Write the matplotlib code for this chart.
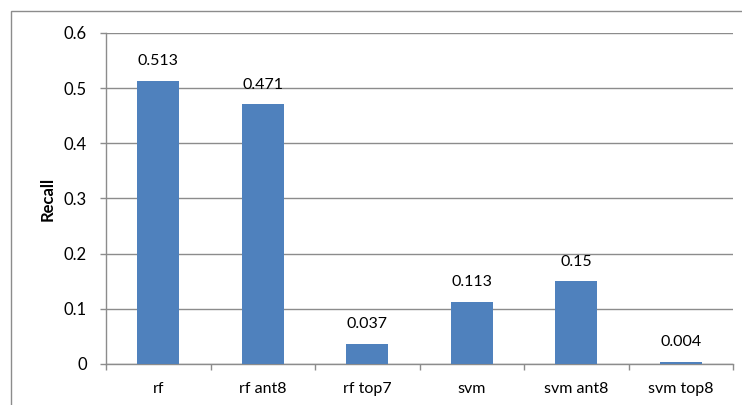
import matplotlib
matplotlib.use("Agg")
import matplotlib.pyplot as plt
from matplotlib.patches import Rectangle

categories = ["rf", "rf ant8", "rf top7", "svm", "svm ant8", "svm top8"]
recall = [0.513, 0.471, 0.037, 0.113, 0.15, 0.004]
value_labels = ["0.513", "0.471", "0.037", "0.113", "0.15", "0.004"]
yticks = [0, 0.1, 0.2, 0.3, 0.4, 0.5, 0.6]
ytick_labels = ["0", "0.1", "0.2", "0.3", "0.4", "0.5", "0.6"]

plt.rcParams["font.family"] = ["Lato", "DejaVu Sans"]

W, H = 742, 405
fig = plt.figure(figsize=(W / 100, H / 100), dpi=100)

# outer chart frame (extends past the right and bottom edges)
fig.patches.append(Rectangle((11 / W, -0.1), 2, (H - 11) / H + 0.1,
                             transform=fig.transFigure, fill=False,
                             edgecolor="#8c8c8c", linewidth=1.0))

ax = fig.add_axes([106 / W, (H - 364) / H, (733 - 106) / W, (364 - 33) / H])

x = list(range(len(categories)))
ax.bar(x, recall, width=0.4, color="#4f81bd", zorder=3)
for xi, v, lab in zip(x, recall, value_labels):
    ax.annotate(lab, (xi, v), xytext=(0, 9), textcoords="offset points",
                ha="center", va="bottom", fontsize=11.5, color="black",
                zorder=4)

ax.set_xlim(-0.5, len(categories) - 0.5)
ax.set_ylim(0, 0.6)
ax.set_yticks(yticks)
ax.set_yticklabels(ytick_labels, fontsize=12)
ax.set_xticks(x)
ax.set_xticklabels(categories, fontsize=11.5)
ax.set_xticks([i - 0.5 for i in range(len(categories) + 1)], minor=True)

ax.yaxis.grid(True, color="#8c8c8c", linewidth=1.0, zorder=0)
ax.tick_params(axis="x", which="major", length=0, pad=13)
ax.tick_params(axis="x", which="minor", length=4.3, color="#8c8c8c", width=1.0)
ax.tick_params(axis="y", length=4.3, color="#8c8c8c", width=1.0, pad=9.5)

for s in ["top", "right"]:
    ax.spines[s].set_visible(False)
for s in ["left", "bottom"]:
    ax.spines[s].set_color("#8c8c8c")
    ax.spines[s].set_linewidth(1.0)

ax.set_ylabel("Recall", fontsize=12, fontweight="bold", labelpad=6)

fig.savefig("out.png", dpi=100)
